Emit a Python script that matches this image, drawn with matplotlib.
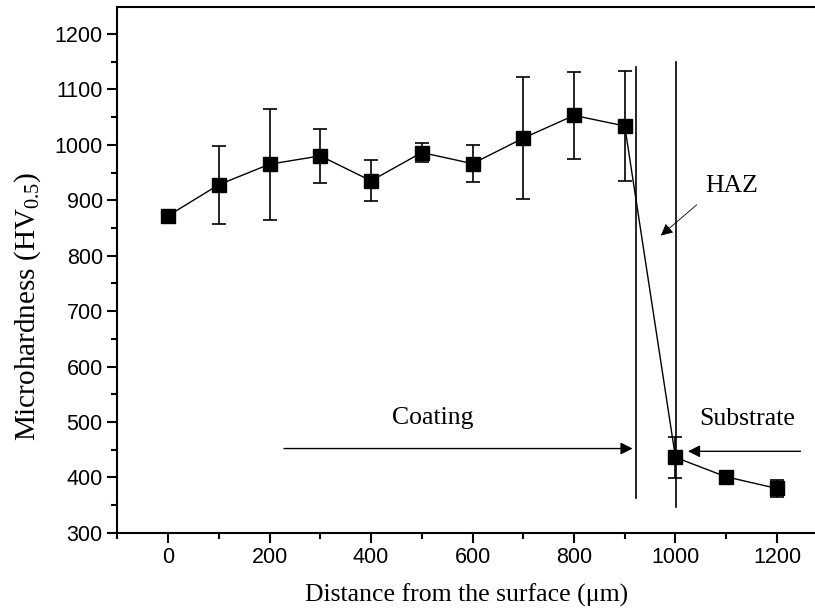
import matplotlib
matplotlib.use("Agg")
import matplotlib.pyplot as plt
from matplotlib.ticker import MultipleLocator

plt.rcParams['mathtext.fontset'] = 'custom'
plt.rcParams['mathtext.rm'] = 'Liberation Serif'

distance = [0, 100, 200, 300, 400, 500, 600, 700, 800, 900, 1000, 1100, 1200]
hardness = [872, 928, 965, 980, 935, 986, 966, 1012, 1053, 1034, 436, 401, 380]
error = [9, 70, 100, 49, 37, 17, 33, 110, 79, 100, 37, 5, 16]

fig = plt.figure(figsize=(8.15, 6.11), dpi=100)
ax = fig.add_axes([0.144, 0.128, 0.856, 0.86])

ax.errorbar(distance, hardness, yerr=error, color="black", marker="s", markersize=10,
            linewidth=1.0, elinewidth=1.2, capsize=5, capthick=1.2)

# boundary lines
ax.plot([923, 923], [363, 1141], color="black", linewidth=1.2)
ax.plot([1002, 1002], [346, 1150], color="black", linewidth=1.2)

serif = "Liberation Serif"
ax.annotate("", xy=(921, 452), xytext=(223, 452),
            arrowprops=dict(arrowstyle="-|>", color="black", lw=1.0, mutation_scale=18))
ax.annotate("", xy=(1019, 447), xytext=(1252, 447),
            arrowprops=dict(arrowstyle="-|>", color="black", lw=1.0, mutation_scale=18))
ax.annotate("", xy=(967, 833), xytext=(1046, 895),
            arrowprops=dict(arrowstyle="-|>", color="black", lw=0.6, mutation_scale=18))
ax.text(522, 507, "Coating", family=serif, fontsize=18.5, ha="center", va="center")
ax.text(1141, 506, "Substrate", family=serif, fontsize=18.5, ha="center", va="center")
ax.text(1111, 926, "HAZ", family=serif, fontsize=18.5, ha="center", va="center")

ax.set_xlim(-100, 1275)
ax.set_ylim(300, 1248)
ax.xaxis.set_major_locator(MultipleLocator(200))
ax.xaxis.set_minor_locator(MultipleLocator(100))
ax.yaxis.set_major_locator(MultipleLocator(100))
ax.yaxis.set_minor_locator(MultipleLocator(50))
ax.spines["right"].set_visible(False)
for s in ["left", "bottom", "top"]:
    ax.spines[s].set_linewidth(1.5)
ax.tick_params(which="major", direction="out", length=7, width=1.5, labelsize=15.5)
ax.tick_params(which="minor", direction="out", length=4, width=1.5)
ax.tick_params(top=False, right=False)
for lab in ax.get_xticklabels() + ax.get_yticklabels():
    lab.set_family("Liberation Sans")

ax.set_xlabel("Distance from the surface (\u03bcm)", family=serif, fontsize=18.5, labelpad=11)
ax.set_ylabel("Microhardness (HV$_{\\mathrm{0.5}}$)", family=serif, fontsize=21)
ax.yaxis.set_label_coords(-0.106, 0.43)

fig.savefig("out.png", dpi=100)
